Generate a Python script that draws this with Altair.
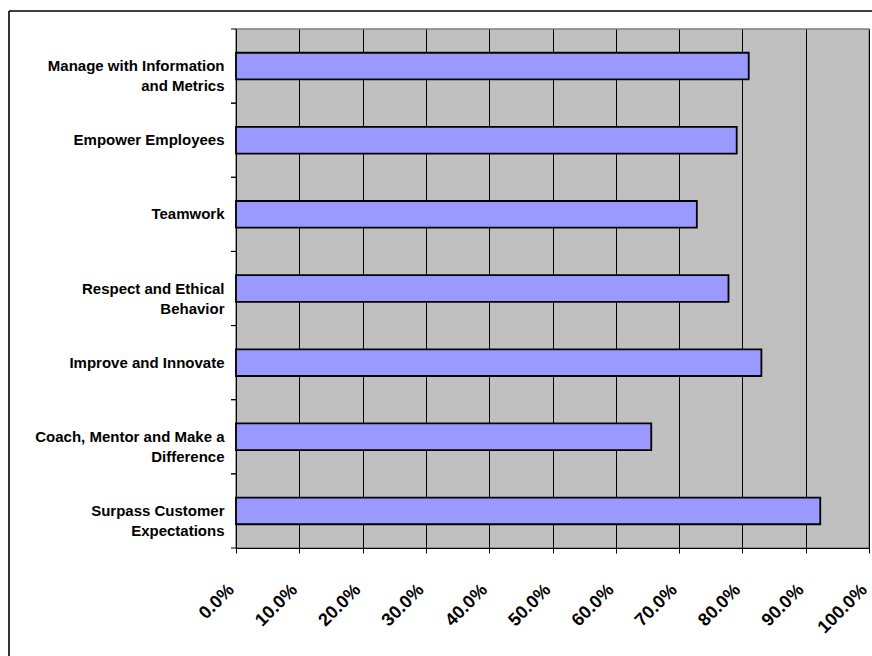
import altair as alt
import pandas as pd

categories = [
    "Manage with Information\nand Metrics",
    "Empower Employees",
    "Teamwork",
    "Respect and Ethical\nBehavior",
    "Improve and Innovate",
    "Coach, Mentor and Make a\nDifference",
    "Surpass Customer\nExpectations",
]
values = [0.810, 0.791, 0.728, 0.778, 0.830, 0.656, 0.923]
x_ticks = [0.0, 0.1, 0.2, 0.3, 0.4, 0.5, 0.6, 0.7, 0.8, 0.9, 1.0]

df = pd.DataFrame({"category": categories, "value": values})

W, H = 633, 519
FONT = "Liberation Sans"

y_axis = alt.Axis(
    title=None, ticks=False, tickSize=0, domain=True, domainColor="#000000",
    domainWidth=1, labelFont=FONT, labelFontWeight="bold", labelFontSize=15,
    labelColor="#000000", labelPadding=12, labelLineHeight=20,
    labelExpr="split(datum.label, '\\n')", labelLimit=400, grid=False,
)
y_scale = alt.Scale(paddingInner=0, paddingOuter=0)

x_axis = alt.Axis(
    title=None, values=x_ticks, format=".1%", grid=True, gridColor="#000000",
    gridWidth=1, domain=True, domainColor="#000000", domainWidth=1,
    ticks=True, tickColor="#000000", tickSize=5, labelFont=FONT,
    labelFontWeight="bold", labelFontSize=18, labelColor="#000000",
    labelAngle=315, labelAlign="right", labelBaseline="middle",
    labelPadding=34, labelOffset=-5, labelFlush=False, labelOverlap=False,
)

bars = alt.Chart(df).mark_bar(
    color="#9999FF", stroke="#000000", strokeWidth=1.8, height={"band": 0.36}
).encode(
    x=alt.X("value:Q", scale=alt.Scale(domain=[0, 1], nice=False), axis=x_axis),
    y=alt.Y("category:N", sort=categories, scale=y_scale, axis=y_axis),
)

tick_top = alt.Chart(df).mark_rule(color="#000000", strokeWidth=1).encode(
    y=alt.Y("category:N", sort=categories, bandPosition=0),
    x=alt.value(-5), x2=alt.value(0),
)
tick_bottom = alt.Chart(df).mark_rule(color="#000000", strokeWidth=1).encode(
    y=alt.Y("category:N", sort=categories, bandPosition=1),
    x=alt.value(-5), x2=alt.value(0),
)

frame = alt.Data(values=[{"k": 0}])
border_left = alt.Chart(frame).mark_rule(color="#000000", strokeWidth=1.6).encode(
    x=alt.value(-227), y=alt.value(-18), y2=alt.value(H + 120)
)
border_top = alt.Chart(frame).mark_rule(color="#000000", strokeWidth=1.6).encode(
    x=alt.value(-227), x2=alt.value(W + 10), y=alt.value(-18)
)

chart = alt.layer(bars, tick_top, tick_bottom, border_left, border_top).properties(
    width=W, height=H,
    autosize=alt.AutoSizeParams(type="none"),
    padding={"left": 236, "top": 29, "right": 3, "bottom": 108},
    background="#FFFFFF",
).configure_view(
    fill="#C0C0C0", stroke="#808080", strokeWidth=1.5
)

chart.save("out.html", embed_options={"renderer": "svg", "actions": False})
